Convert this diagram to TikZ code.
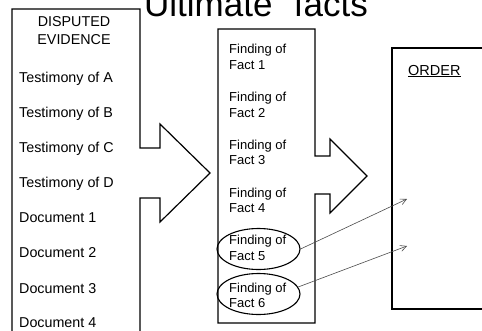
\documentclass[tikz,border=0pt]{standalone}
\usepackage{fontspec}
\setmainfont{Liberation Sans}
\usetikzlibrary{shapes.geometric,arrows.meta}
\begin{document}
\begin{tikzpicture}[x=1pt,y=-1pt,
  panel/.style={draw=black, line width=1.2pt, line join=miter},
  evid/.style={anchor=base west, inner sep=0pt, font=\fontsize{14.3}{17}\selectfont},
  head/.style={anchor=base, inner sep=0pt, font=\fontsize{14.3}{17}\selectfont},
  fact/.style={anchor=west, inner sep=0pt, align=left, font=\fontsize{13}{15.5}\selectfont},
  ring/.style={ellipse, draw=black, line width=1.1pt, minimum width=83pt, minimum height=41pt, inner sep=0pt},
  link/.style={draw=black!70, line width=0.6pt, -{Straight Barb[length=6pt,width=6pt]}}
]
\useasboundingbox (0,0) rectangle (482,330);
\fill[white] (0,0) rectangle (482,330);
\clip (0,0) rectangle (482,330);

% title, partly above the page edge
\node[anchor=base west, inner sep=0pt, font=\fontsize{35}{40}\selectfont] (title) at (144,16) {Ultimate “facts”};

% evidence panel with its arrow
\draw[panel] (12,340) -- (12,9) -- (140,9) -- (140,148) -- (160,148) -- (160,124)
  -- (210,173) -- (160,222) -- (160,198) -- (140,198) -- (140,340);

% findings panel with its arrow
\draw[panel] (218,29) -- (315,29) -- (315,156) -- (330,156) -- (330,139)
  -- (367,176) -- (330,213) -- (330,194) -- (315,194) -- (315,323) -- (218,323) -- cycle;

% order panel, running past the right edge
\draw[panel] (495,48) -- (392,48) -- (392,309) -- (495,309);

% evidence list
\node[head] (hd1) at (74,26) {DISPUTED};
\node[head] (hd2) at (74,44) {EVIDENCE};
\node[evid] (ta) at (19,82) {Testimony of A};
\node[evid] (tb) at (19,117) {Testimony of B};
\node[evid] (tc) at (19,152) {Testimony of C};
\node[evid] (td) at (19,187) {Testimony of D};
\node[evid] (d1) at (19,222) {Document 1};
\node[evid] (d2) at (19,257) {Document 2};
\node[evid] (d3) at (19,293) {Document 3};
\node[evid] (d4) at (19,327) {Document 4};

% findings
\node[fact] (f1) at (229,57) {Finding of\\Fact 1};
\node[fact] (f2) at (229,104.7) {Finding of\\Fact 2};
\node[fact] (f3) at (229,152.4) {Finding of\\Fact 3};
\node[fact] (f4) at (229,200.1) {Finding of\\Fact 4};
\node[fact] (f5) at (229,247.8) {Finding of\\Fact 5};
\node[fact] (f6) at (229,295.5) {Finding of\\Fact 6};

\node[ring] (ring5) at (258.5,249) {};
\node[ring] (ring6) at (258.5,294) {};

% order
\node[anchor=base west, inner sep=0pt, font=\fontsize{14.5}{17}\selectfont] (order) at (408,75) {\underline{ORDER}};

% links from the circled findings into the order
\coordinate (to5) at (407,199);
\coordinate (to6) at (407,246);
\draw[link] (ring5.east) -- (to5);
\draw[link] (ring6.10) -- (to6);
\end{tikzpicture}
\end{document}
